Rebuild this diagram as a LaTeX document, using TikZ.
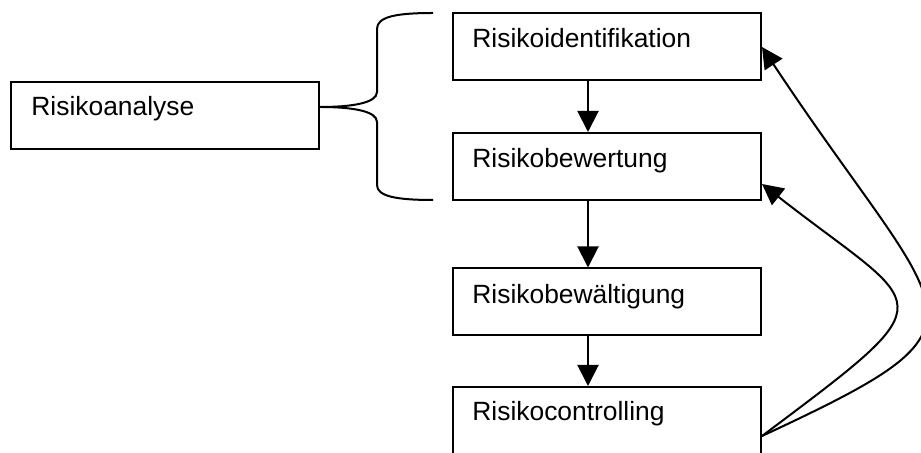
\documentclass[tikz,border=0pt]{standalone}
\usepackage{fontspec}
\setmainfont{Liberation Sans}
\usetikzlibrary{arrows.meta,calc}
\begin{document}
\begin{tikzpicture}[x=0.5pt,y=-0.5pt,
  box/.style={draw=black,line width=1pt,minimum width=154pt,minimum height=33.5pt,inner sep=0pt},
  lbl/.style={anchor=base west,inner sep=0pt,font=\fontsize{13.2}{16}\selectfont},
  arr/.style={line width=1pt,-{Triangle[length=10.5pt,width=10.5pt]}},
  line/.style={line width=1pt}]
\useasboundingbox (0,0) rectangle (921,453);

% process boxes
\node[box] (ana) at (165,115.5) {};
\node[box] (b1) at (607,46.5) {};
\node[box] (b2) at (607,166.5) {};
\node[box] (b3) at (607,302) {};
\node[box] (b4) at (607,420.5) {};

% box texts, set in the upper left of each box
\node[lbl] (tana) at ($(ana.north west)+(21,35)$) {Risikoanalyse};
\node[lbl] (t1) at ($(b1.north west)+(20,36)$) {Risikoidentifikation};
\node[lbl] (t2) at ($(b2.north west)+(20,36)$) {Risikobewertung};
\node[lbl] (t3) at ($(b3.north west)+(20,36)$) {Risikobewältigung};
\node[lbl] (t4) at ($(b4.north west)+(20,35)$) {Risikocontrolling};

% vertical flow arrows
\coordinate (ax) at (588,0);
\draw[arr] (b1.south -| ax) -- (b2.north -| ax);
\draw[arr] (b2.south -| ax) -- (b3.north -| ax);
\draw[arr] (b3.south -| ax) -- (b4.north -| ax);

% curly brace grouping identification and evaluation
\coordinate (btop) at (433,13);
\coordinate (bbot) at (433,200);
\draw[line] (btop) .. controls (395,13) and (377,17) .. (377,29)
  -- (377,92) .. controls (377,103) and (352,107) .. (ana.east |- 0,107)
  .. controls (352,107) and (377,111) .. (377,122)
  -- (377,185) .. controls (377,196) and (395,200) .. (bbot);

% feedback loops from controlling
\coordinate (fstart) at ($(b4.north east)+(0,50)$);
\coordinate (f1) at ($(b1.north east)+(0,35)$);
\coordinate (f2) at ($(b2.north east)+(0,52)$);
\draw[arr] (fstart) .. controls (1011,320) and (948,328) .. (f1);
\draw[arr] (fstart) .. controls (953,293) and (927,313) .. (f2);
\end{tikzpicture}
\end{document}
